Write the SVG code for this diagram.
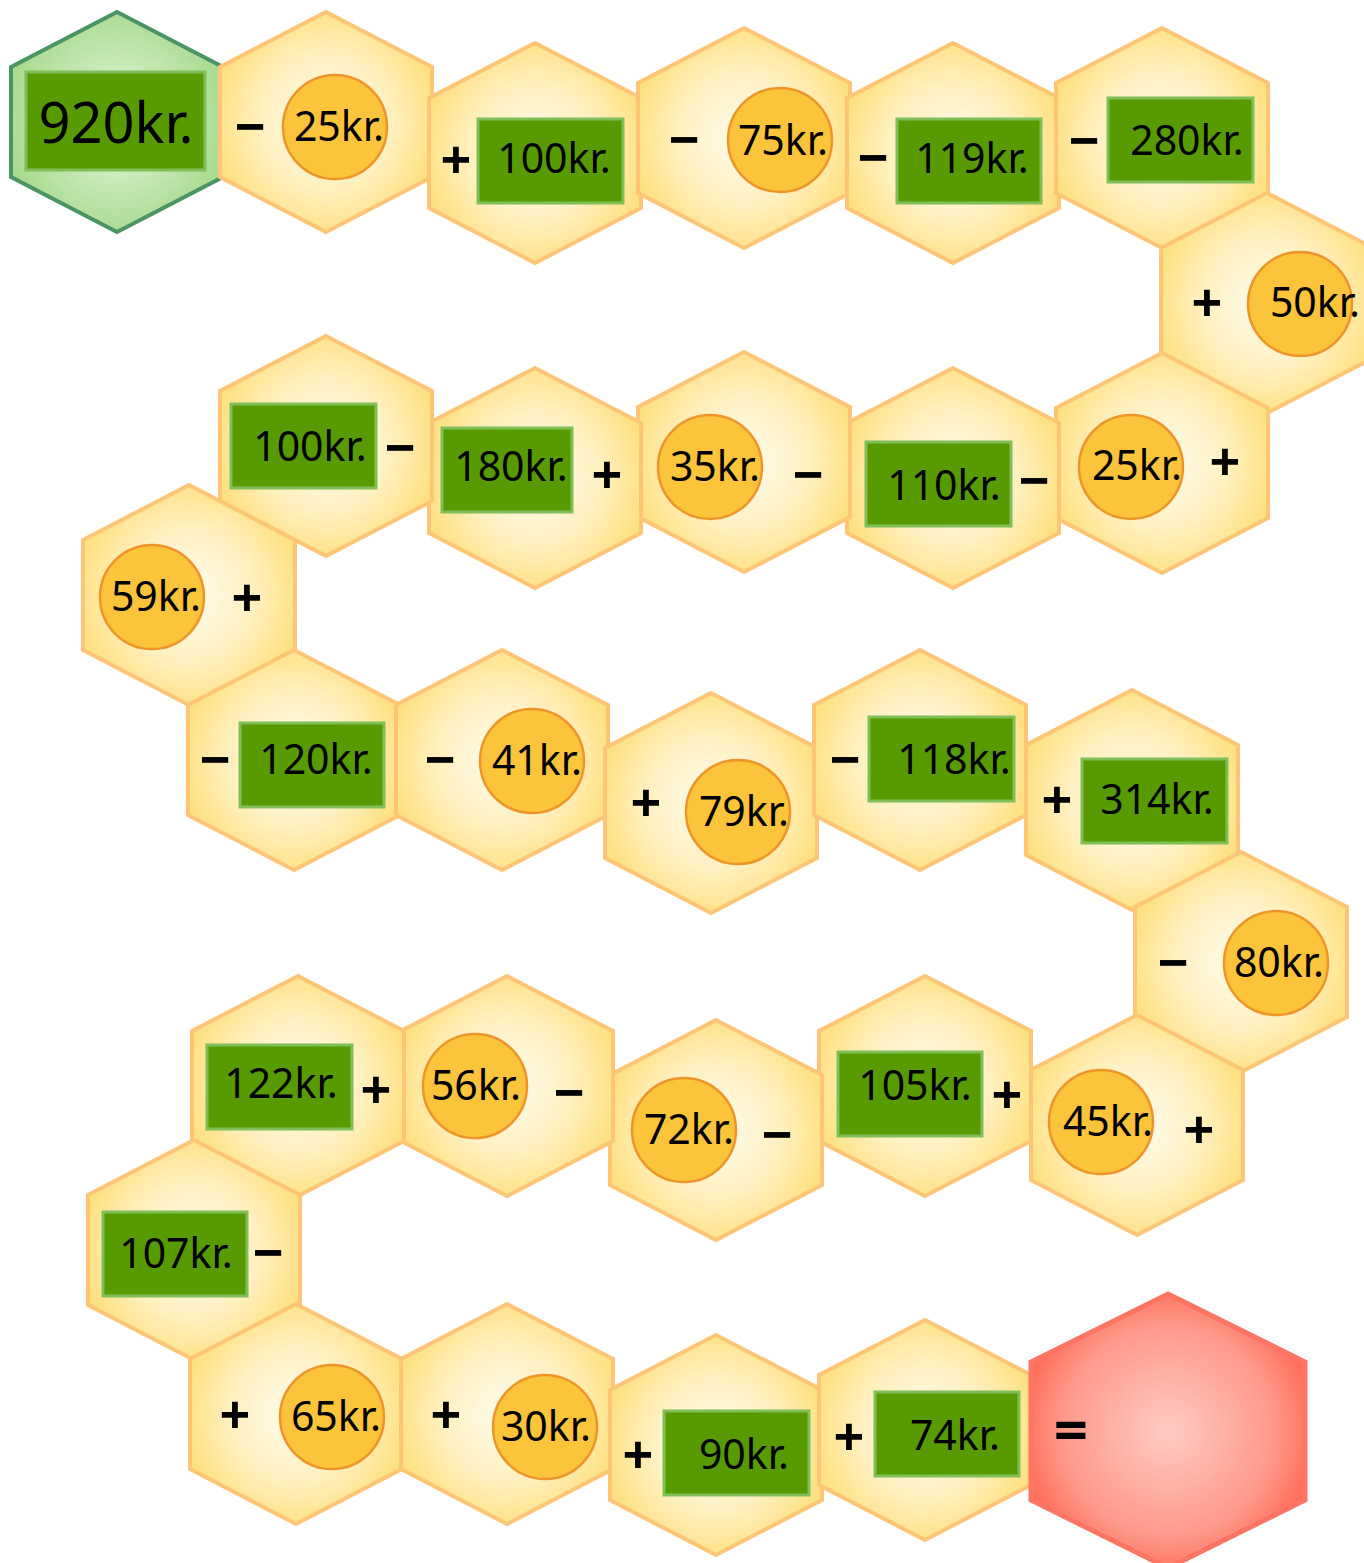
<svg xmlns="http://www.w3.org/2000/svg" xmlns:xlink="http://www.w3.org/1999/xlink" width="1364" height="1563" viewBox="0 0 1364 1563">
<style>
.y{fill:url(#gy);stroke:#FFC576;stroke-width:4;stroke-linejoin:miter}
.g{fill:url(#gg);stroke:#4B9565;stroke-width:4}
.r{fill:url(#gr);stroke:#FF7462;stroke-width:5}
.box{fill:#589B00;stroke:#80BE58;stroke-width:3}
.coin{fill:#FBC43B;stroke:#EE952A;stroke-width:2.5}
text{font-family:"Noto Sans","DejaVu Sans",sans-serif;fill:#000;text-anchor:middle}
.v{font-size:41px}
.big{font-size:56px}
.op{font-size:54px;font-weight:bold}
.eq{font-size:60px;font-weight:bold}
</style>
<defs>
<radialGradient id="gy" cx="0.5" cy="0.5" r="0.55">
<stop offset="0" stop-color="#FFFCEE"/>
<stop offset="0.55" stop-color="#FFF0C0"/>
<stop offset="1" stop-color="#FFDF7C"/>
</radialGradient>
<radialGradient id="gg" cx="0.5" cy="0.5" r="0.55">
<stop offset="0" stop-color="#E8F8DF"/>
<stop offset="1" stop-color="#A6D98B"/>
</radialGradient>
<radialGradient id="gr" cx="0.5" cy="0.5" r="0.55">
<stop offset="0" stop-color="#FFCBC4"/>
<stop offset="0.7" stop-color="#FF998A"/>
<stop offset="1" stop-color="#FF6A56"/>
</radialGradient>
<polygon id="hex" points="0,-110 106,-55 106,55 0,110 -106,55 -106,-55"/>
<polygon id="bighex" points="0,-137 137,-69 137,69 0,137 -137,69 -137,-69"/>
</defs>
<rect width="1364" height="1563" fill="#FFFFFF"/>

<g id="n1"><use href="#hex" x="117" y="122" class="g"/><rect class="box" x="26" y="72" width="179" height="98"/><text class="big" x="116" y="143">920kr.</text></g>
<g id="n2"><use href="#hex" x="326" y="122" class="y"/><text class="op" x="250" y="146">−</text><circle class="coin" cx="335" cy="127" r="52"/><text class="v" x="339" y="141">25kr.</text></g>
<g id="n3"><use href="#hex" x="535" y="153" class="y"/><text class="op" x="456" y="179">+</text><rect class="box" x="478" y="119" width="145" height="84"/><text class="v" x="554" y="173">100kr.</text></g>
<g id="n4"><use href="#hex" x="744" y="138" class="y"/><text class="op" x="684" y="159">−</text><circle class="coin" cx="780" cy="140" r="52"/><text class="v" x="783" y="155">75kr.</text></g>
<g id="n5"><use href="#hex" x="953" y="153" class="y"/><text class="op" x="873" y="177">−</text><rect class="box" x="897" y="119" width="144" height="84"/><text class="v" x="972" y="173">119kr.</text></g>
<g id="n6"><use href="#hex" x="1162" y="138" class="y"/><text class="op" x="1084" y="160">−</text><rect class="box" x="1108" y="98" width="145" height="84"/><text class="v" x="1187" y="155">280kr.</text></g>
<g id="n7"><use href="#hex" x="1267" y="303" class="y"/><text class="op" x="1207" y="322">+</text><circle class="coin" cx="1300" cy="304" r="52"/><text class="v" x="1315" y="317">50kr.</text></g>

<g id="n8"><use href="#hex" x="1162" y="463" class="y"/><circle class="coin" cx="1131" cy="467" r="52"/><text class="v" x="1137" y="480">25kr.</text><text class="op" x="1225" y="481">+</text></g>
<g id="n9"><use href="#hex" x="953" y="478" class="y"/><rect class="box" x="866" y="442" width="145" height="84"/><text class="v" x="944" y="500">110kr.</text><text class="op" x="1034" y="500">−</text></g>
<g id="n10"><use href="#hex" x="744" y="462" class="y"/><circle class="coin" cx="710" cy="467" r="52"/><text class="v" x="715" y="481">35kr.</text><text class="op" x="808" y="494">−</text></g>
<g id="n11"><use href="#hex" x="535" y="478" class="y"/><rect class="box" x="442" y="428" width="130" height="84"/><text class="v" x="511" y="481">180kr.</text><text class="op" x="607" y="494">+</text></g>
<g id="n12"><use href="#hex" x="326" y="446" class="y"/><rect class="box" x="231" y="404" width="145" height="84"/><text class="v" x="310" y="461">100kr.</text><text class="op" x="400" y="467">−</text></g>
<g id="n13"><use href="#hex" x="189" y="595" class="y"/><circle class="coin" cx="152" cy="597" r="52"/><text class="v" x="156" y="611">59kr.</text><text class="op" x="247" y="617">+</text></g>

<g id="n14"><use href="#hex" x="294" y="760" class="y"/><text class="op" x="215" y="779">−</text><rect class="box" x="240" y="723" width="144" height="84"/><text class="v" x="316" y="774">120kr.</text></g>
<g id="n15"><use href="#hex" x="502" y="760" class="y"/><text class="op" x="440" y="779">−</text><circle class="coin" cx="532" cy="761" r="52"/><text class="v" x="537" y="775">41kr.</text></g>
<g id="n16"><use href="#hex" x="711" y="803" class="y"/><text class="op" x="646" y="822">+</text><circle class="coin" cx="738" cy="812" r="52"/><text class="v" x="744" y="826">79kr.</text></g>
<g id="n17"><use href="#hex" x="920" y="760" class="y"/><text class="op" x="845" y="779">−</text><rect class="box" x="869" y="717" width="145" height="84"/><text class="v" x="954" y="774">118kr.</text></g>
<g id="n18"><use href="#hex" x="1132" y="800" class="y"/><text class="op" x="1057" y="819">+</text><rect class="box" x="1082" y="759" width="145" height="84"/><text class="v" x="1157" y="814">314kr.</text></g>
<g id="n19"><use href="#hex" x="1241" y="962" class="y"/><text class="op" x="1173" y="982">−</text><circle class="coin" cx="1276" cy="963" r="52"/><text class="v" x="1279" y="977">80kr.</text></g>

<g id="n20"><use href="#hex" x="1137" y="1125" class="y"/><circle class="coin" cx="1101" cy="1122" r="52"/><text class="v" x="1108" y="1136">45kr.</text><text class="op" x="1199" y="1149">+</text></g>
<g id="n21"><use href="#hex" x="925" y="1086" class="y"/><rect class="box" x="838" y="1052" width="144" height="84"/><text class="v" x="915" y="1100">105kr.</text><text class="op" x="1007" y="1114">+</text></g>
<g id="n22"><use href="#hex" x="716" y="1130" class="y"/><circle class="coin" cx="684" cy="1130" r="52"/><text class="v" x="689" y="1144">72kr.</text><text class="op" x="777" y="1154">−</text></g>
<g id="n23"><use href="#hex" x="507" y="1086" class="y"/><circle class="coin" cx="475" cy="1086" r="52"/><text class="v" x="476" y="1100">56kr.</text><text class="op" x="569" y="1112">−</text></g>
<g id="n24"><use href="#hex" x="298" y="1086" class="y"/><rect class="box" x="207" y="1045" width="145" height="84"/><text class="v" x="281" y="1098">122kr.</text><text class="op" x="376" y="1109">+</text></g>
<g id="n25"><use href="#hex" x="194" y="1250" class="y"/><rect class="box" x="103" y="1212" width="144" height="84"/><text class="v" x="176" y="1268">107kr.</text><text class="op" x="268" y="1272">−</text></g>

<g id="n26"><use href="#hex" x="296" y="1414" class="y"/><text class="op" x="235" y="1434">+</text><circle class="coin" cx="332" cy="1417" r="52"/><text class="v" x="336" y="1431">65kr.</text></g>
<g id="n27"><use href="#hex" x="507" y="1414" class="y"/><text class="op" x="446" y="1434">+</text><circle class="coin" cx="545" cy="1427" r="52"/><text class="v" x="546" y="1441">30kr.</text></g>
<g id="n28"><use href="#hex" x="716" y="1445" class="y"/><text class="op" x="638" y="1474">+</text><rect class="box" x="664" y="1411" width="145" height="84"/><text class="v" x="744" y="1469">90kr.</text></g>
<g id="n29"><use href="#hex" x="925" y="1430" class="y"/><text class="op" x="849" y="1456">+</text><rect class="box" x="875" y="1392" width="144" height="84"/><text class="v" x="955" y="1450">74kr.</text></g>
<g id="n30"><use href="#bighex" x="1168" y="1431" class="r"/><text class="eq" x="1071" y="1451">=</text></g>
</svg>
